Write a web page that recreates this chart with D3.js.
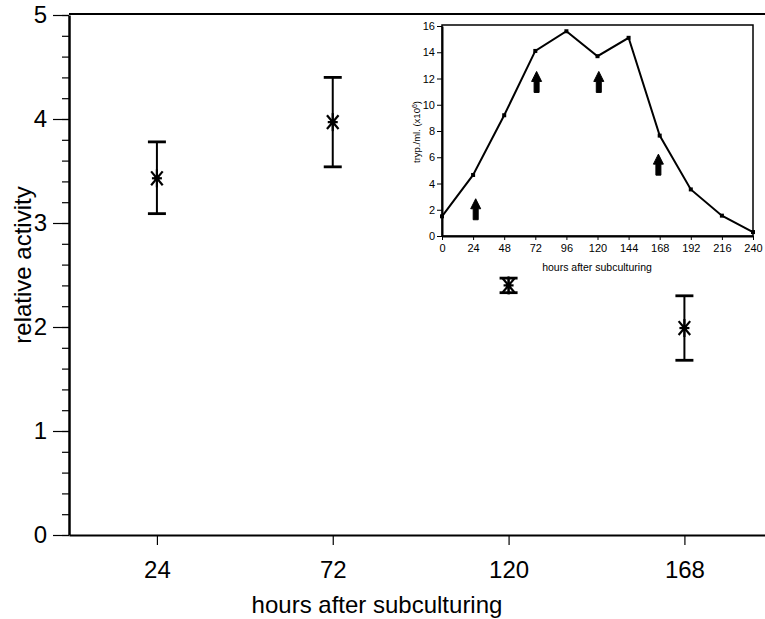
<!DOCTYPE html>
<html>
<head>
<meta charset="utf-8">
<script src="https://cdn.jsdelivr.net/npm/d3@7"></script>
<style>
  body { margin: 0; background: #fff; }
  svg { font-family: "Liberation Sans", Arial, sans-serif; }
  .axis path, .axis line { stroke: #000; }
  .axis text { fill: #000; }
</style>
</head>
<body>
<svg width="765" height="619"></svg>
<script>
// main chart: relative activity at sampling times
var hours = [24, 72, 120, 168];
var activity = [3.43, 3.97, 2.40, 1.99];
var activityHigh = [3.78, 4.40, 2.47, 2.30];
var activityLow = [3.09, 3.54, 2.33, 1.68];
var yTicks = [0, 1, 2, 3, 4, 5];

// inset: parasite growth curve
var insetHours = [0, 24, 48, 72, 96, 120, 144, 168, 192, 216, 240];
var trypPerMl = [1.5, 4.65, 9.2, 14.1, 15.6, 13.7, 15.1, 7.65, 3.55, 1.55, 0.3];
var insetYTicks = [0, 2, 4, 6, 8, 10, 12, 14, 16];
var arrowHours = [26, 73, 121, 167];
var arrowLevels = [2.0, 11.7, 11.7, 5.4];

var svg = d3.select('svg');

// ---- main chart ----
var margin = {top: 14, left: 69},
    plotRight = 765,
    plotBottom = 535;

var xScale = d3.scaleLinear().domain([0, 190]).range([margin.left, plotRight]);
var yScale = d3.scaleLinear().domain([0, 5]).range([plotBottom, 15]);

// frame lines (left, bottom, top; no right side)
svg.append('line')
  .attr('x1', margin.left).attr('x2', plotRight)
  .attr('y1', margin.top).attr('y2', margin.top)
  .attr('stroke', '#000').attr('stroke-width', 2);

// minor y ticks
svg.append('g')
  .attr('class', 'axis')
  .attr('transform', 'translate(' + margin.left + ',0)')
  .call(d3.axisLeft(yScale).tickValues(d3.range(0, 5.001, 0.2)).tickSize(7).tickFormat(''))
  .call(function(g) { g.select('.domain').remove(); })
  .selectAll('line').attr('stroke-width', 1.2);

// major y ticks
var yAxis = svg.append('g')
  .attr('class', 'axis')
  .attr('transform', 'translate(' + margin.left + ',0)')
  .call(d3.axisLeft(yScale).tickValues(yTicks).tickSize(16).tickSizeOuter(0).tickPadding(6).tickFormat(d3.format('d')));
yAxis.select('.domain').attr('stroke-width', 2.5);
yAxis.selectAll('line').attr('stroke-width', 1.2);
yAxis.selectAll('text').style('font-size', '24px');

var xAxis = svg.append('g')
  .attr('class', 'axis')
  .attr('transform', 'translate(0,' + plotBottom + ')')
  .call(d3.axisBottom(xScale).tickValues(hours).tickSize(10).tickSizeOuter(0).tickPadding(16));
xAxis.select('.domain').attr('stroke-width', 2);
xAxis.selectAll('line').attr('stroke-width', 1.2);
xAxis.selectAll('text').style('font-size', '24px');

svg.append('text')
  .attr('x', 377).attr('y', 613)
  .attr('text-anchor', 'middle')
  .style('font-size', '24px')
  .text('hours after subculturing');

svg.append('text')
  .attr('transform', 'translate(31,265) rotate(-90)')
  .attr('text-anchor', 'middle')
  .style('font-size', '24px')
  .text('relative activity');

// error bars
var points = hours.map(function(h, i) {
  return {h: h, v: activity[i], hi: activityHigh[i], lo: activityLow[i]};
});

var bars = svg.append('g').selectAll('g')
  .data(points)
  .enter().append('g');

bars.append('line')
  .attr('x1', function(d) { return xScale(d.h); })
  .attr('x2', function(d) { return xScale(d.h); })
  .attr('y1', function(d) { return yScale(d.hi); })
  .attr('y2', function(d) { return yScale(d.lo); })
  .attr('stroke', '#000').attr('stroke-width', 2);

['hi', 'lo'].forEach(function(k) {
  bars.append('line')
    .attr('x1', function(d) { return xScale(d.h) - 9; })
    .attr('x2', function(d) { return xScale(d.h) + 9; })
    .attr('y1', function(d) { return yScale(d[k]); })
    .attr('y2', function(d) { return yScale(d[k]); })
    .attr('stroke', '#000').attr('stroke-width', 2.8);
});

// asterisk markers
var armAngles = [50, -50, 90, 0];
bars.each(function(d) {
  var g = d3.select(this),
      cx = xScale(d.h),
      cy = yScale(d.v);
  armAngles.forEach(function(a) {
    var r = a === 0 ? 5 : 9,
        dx = r * Math.cos(a * Math.PI / 180),
        dy = r * Math.sin(a * Math.PI / 180);
    g.append('line')
      .attr('x1', cx - dx).attr('x2', cx + dx)
      .attr('y1', cy - dy).attr('y2', cy + dy)
      .attr('stroke', '#000').attr('stroke-width', 2.2);
  });
  g.append('circle').attr('cx', cx).attr('cy', cy).attr('r', 2.8).attr('fill', '#000');
});

// ---- inset ----
var inset = {left: 442, right: 753, top: 25, bottom: 236};

var ixScale = d3.scaleLinear().domain([0, 240]).range([inset.left, inset.right]);
var iyScale = d3.scaleLinear().domain([0, 16]).range([inset.bottom, 26]);

svg.append('rect')
  .attr('x', inset.left).attr('y', inset.top)
  .attr('width', inset.right - inset.left)
  .attr('height', inset.bottom - inset.top)
  .attr('fill', '#fff')
  .attr('stroke', '#000').attr('stroke-width', 1.5);

var iy = svg.append('g')
  .attr('class', 'axis')
  .attr('transform', 'translate(' + inset.left + ',0)')
  .call(d3.axisLeft(iyScale).tickValues(insetYTicks).tickSize(5).tickSizeOuter(0).tickPadding(2));
iy.select('.domain').attr('stroke-width', 2);
iy.selectAll('text').style('font-size', '11px');

var ix = svg.append('g')
  .attr('class', 'axis')
  .attr('transform', 'translate(0,' + inset.bottom + ')')
  .call(d3.axisBottom(ixScale).tickValues(insetHours).tickSize(4).tickSizeOuter(0).tickPadding(4));
ix.select('.domain').attr('stroke-width', 2);
ix.selectAll('text').style('font-size', '11px');

svg.append('text')
  .attr('x', 597).attr('y', 271)
  .attr('text-anchor', 'middle')
  .style('font-size', '10.5px')
  .text('hours after subculturing');

var yLab = svg.append('text')
  .attr('transform', 'translate(420,132) rotate(-90)')
  .attr('text-anchor', 'middle')
  .style('font-size', '9.5px');
yLab.append('tspan').text('tryp./ml. (x10');
yLab.append('tspan').attr('dy', -3).style('font-size', '7px').text('6');
yLab.append('tspan').attr('dy', 3).text(')');

var growth = insetHours.map(function(h, i) { return [h, trypPerMl[i]]; });

svg.append('path')
  .datum(growth)
  .attr('fill', 'none')
  .attr('stroke', '#000')
  .attr('stroke-width', 2)
  .attr('d', d3.line()
    .x(function(d) { return ixScale(d[0]); })
    .y(function(d) { return iyScale(d[1]); }));

svg.append('g').selectAll('rect')
  .data(growth)
  .enter().append('rect')
  .attr('x', function(d) { return ixScale(d[0]) - 2; })
  .attr('y', function(d) { return iyScale(d[1]) - 2; })
  .attr('width', 4).attr('height', 4)
  .attr('fill', '#000');

// sampling arrows
var arrowPath = 'M0,-11 L5,-1 L2.5,-1 L2.5,10 L-2.5,10 L-2.5,-1 L-5,-1 Z';
svg.append('g').selectAll('path')
  .data(arrowHours.map(function(h, i) { return [h, arrowLevels[i]]; }))
  .enter().append('path')
  .attr('transform', function(d) {
    return 'translate(' + ixScale(d[0]) + ',' + iyScale(d[1]) + ')';
  })
  .attr('d', arrowPath)
  .attr('fill', '#000')
  .attr('stroke', '#000')
  .attr('stroke-width', 1)
  .attr('stroke-linejoin', 'round');
</script>
</body>
</html>
